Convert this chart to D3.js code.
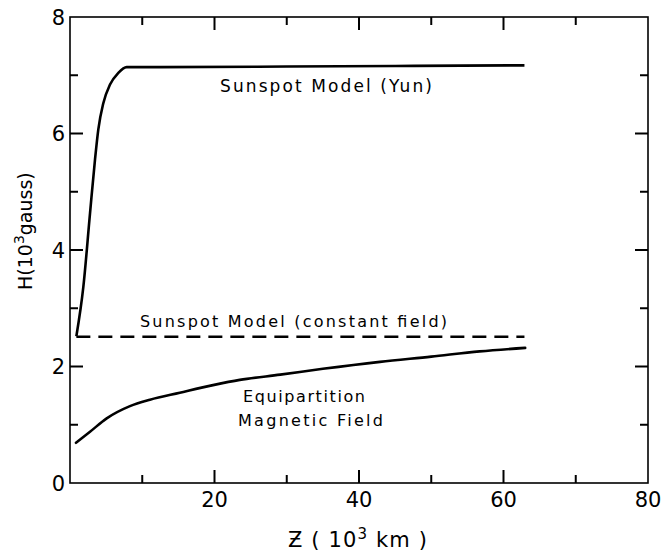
<!DOCTYPE html>
<html>
<head>
<meta charset="utf-8">
<script src="https://cdn.jsdelivr.net/npm/d3@7"></script>
<style>
  body { margin: 0; background: #fff; }
  text { font-family: "DejaVu Sans", "Liberation Sans", sans-serif; fill: #000; }
</style>
</head>
<body>
<div id="plot-container"></div>
<script>
// z in 10^3 km, H in 10^3 gauss
var yunZ = [0.88, 1.85, 2.77, 3.46, 3.92, 4.61, 5.54, 6.69, 7.84, 12.5, 30, 45, 62.9];
var yunH = [2.52, 3.37, 4.63, 5.55, 6.07, 6.52, 6.84, 7.04, 7.14, 7.14, 7.15, 7.16, 7.17];

var constZ = [0.88, 62.9];
var constH = [2.51, 2.51];

var equiZ = [0.83, 2.77, 5.08, 8.3, 11.07, 15.2, 19.8, 23.5, 29.1, 35, 42.9, 50, 56.7, 63.0];
var equiH = [0.69, 0.88, 1.11, 1.32, 1.43, 1.55, 1.68, 1.77, 1.86, 1.96, 2.08, 2.17, 2.26, 2.32];

var xTicks = [10, 20, 30, 40, 50, 60, 70];
var xLabels = [20, 40, 60, 80];
var yTicks = [1, 2, 3, 4, 5, 6, 7];
var yLabels = [0, 2, 4, 6, 8];

var width = 663, height = 554;
// note: "top" is taken by window.top, so use plot* names
var plotL = 70, plotR = 648, plotT = 17, plotB = 483;

var svg = d3.select("#plot-container")
  .append("svg")
  .attr("width", width)
  .attr("height", height);

var x = d3.scaleLinear().domain([0, 80]).range([plotL, plotR]);
var y = d3.scaleLinear().domain([0, 8]).range([plotB, plotT]);

// frame
svg.append("rect")
  .attr("x", plotL).attr("y", plotT)
  .attr("width", plotR - plotL).attr("height", plotB - plotT)
  .attr("fill", "none").attr("stroke", "#000").attr("stroke-width", 1.6);

function tickLen(major) { return major ? 13 : 8; }

// inward ticks on all four sides
xTicks.forEach(function(t){
  var len = tickLen(t % 20 == 0);
  svg.append("line").attr("x1", x(t)).attr("x2", x(t))
    .attr("y1", plotB).attr("y2", plotB - len)
    .attr("stroke", "#000").attr("stroke-width", 2);
  svg.append("line").attr("x1", x(t)).attr("x2", x(t))
    .attr("y1", plotT).attr("y2", plotT + len)
    .attr("stroke", "#000").attr("stroke-width", 2);
});
yTicks.forEach(function(t){
  var len = tickLen(t % 2 == 0);
  svg.append("line").attr("x1", plotL).attr("x2", plotL + len)
    .attr("y1", y(t)).attr("y2", y(t))
    .attr("stroke", "#000").attr("stroke-width", 2);
  svg.append("line").attr("x1", plotR).attr("x2", plotR - len)
    .attr("y1", y(t)).attr("y2", y(t))
    .attr("stroke", "#000").attr("stroke-width", 2);
});

// tick labels
svg.selectAll(".xl").data(xLabels).enter().append("text")
  .attr("x", function(d){ return x(d); })
  .attr("y", 507)
  .attr("text-anchor", "middle")
  .attr("font-size", 21)
  .text(function(d){ return d; });

svg.selectAll(".yl").data(yLabels).enter().append("text")
  .attr("x", 65)
  .attr("y", function(d){ return y(d) + 7.5; })
  .attr("text-anchor", "end")
  .attr("font-size", 21)
  .text(function(d){ return d; });

// curves
var line = d3.line()
  .x(function(d){ return x(d[0]); })
  .y(function(d){ return y(d[1]); })
  .curve(d3.curveMonotoneX);

svg.append("path")
  .datum(d3.zip(yunZ, yunH))
  .attr("d", line)
  .attr("fill", "none").attr("stroke", "#000").attr("stroke-width", 2.6)
  .attr("stroke-linejoin", "round");

svg.append("path")
  .datum(d3.zip(constZ, constH))
  .attr("d", d3.line().x(function(d){ return x(d[0]); }).y(function(d){ return y(d[1]); }))
  .attr("fill", "none").attr("stroke", "#000").attr("stroke-width", 2.4)
  .attr("stroke-dasharray", "14,8");

svg.append("path")
  .datum(d3.zip(equiZ, equiH))
  .attr("d", line)
  .attr("fill", "none").attr("stroke", "#000").attr("stroke-width", 2.6)
  .attr("stroke-linecap", "round");

// curve labels
function label(txt, x0, x1, base, size){
  svg.append("text")
    .attr("x", x0).attr("y", base)
    .attr("font-size", size)
    .attr("textLength", x1 - x0)
    .attr("lengthAdjust", "spacing")
    .text(txt);
}
label("Sunspot  Model  (Yun)", 220, 432, 92, 17);
label("Sunspot  Model  (constant  field)", 140, 447, 327, 16);
label("Equipartition", 243, 365, 402, 16);
label("Magnetic  Field", 238, 383, 426, 16);

// axis titles
var xt = svg.append("text")
  .attr("x", 288).attr("y", 547)
  .attr("font-size", 21)
  .attr("textLength", 139)
  .attr("lengthAdjust", "spacing");
xt.append("tspan").text("\u01B5 ( 10");
xt.append("tspan").attr("dy", -8).attr("font-size", 15).text("3");
xt.append("tspan").attr("dy", 8).text("  km )");

var yt = svg.append("text")
  .attr("transform", "translate(32,290) rotate(-90)")
  .attr("font-size", 19);
yt.append("tspan").text("H(10");
yt.append("tspan").attr("dy", -8).attr("font-size", 14).text("3");
yt.append("tspan").attr("dy", 8).text("gauss)");
</script>
</body>
</html>
